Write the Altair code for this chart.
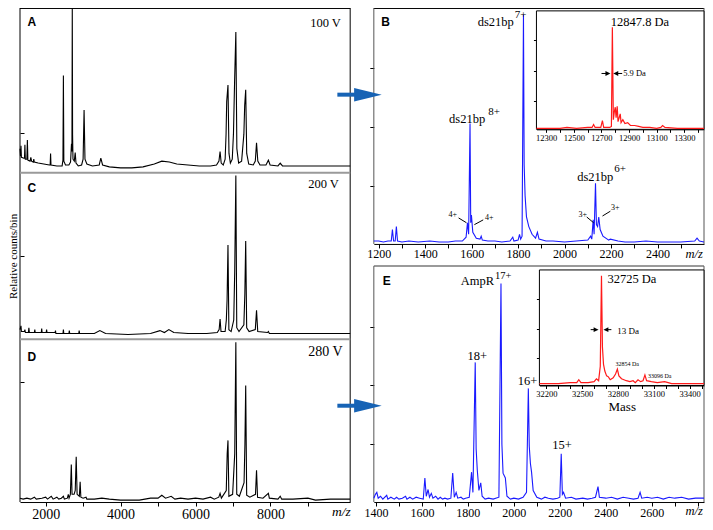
import altair as alt
import pandas as pd

# ---------------- data (m/z or mass, relative counts) ----------------
A_spec = [(1316,25),(1330,17),(1342,28),(1354,16),(1420,15),(1436,15),(1447,29),(1458,14),(1500,14),(1513,34),(1526,13),
          (1585,12),(1605,16),(1625,12),(1670,11),(1684,14),(1698,11),(1800,10),(1950,9),(2100,8),(2121,8),(2132,20),(2143,8),
          (2300,7),(2440,7),(2462,13),(2474,101),(2486,12),(2530,8),(2620,8),(2665,11),(2690,30),(2702,22),(2711,171),(2719,40),
          (2730,14),(2765,12),(2789,21),(2810,10),(2870,7),(2960,8),(3000,14),(3026,65),(3050,14),(3100,9),(3250,7),(3430,8),
          (3473,15),(3520,8),(3700,6),(4000,5),(4300,5),(4600,6),(4900,9),(5100,12),(5300,11),(5500,9),(5800,8),(6100,7),
          (6400,7),(6560,8),(6625,12),(6655,22),(6685,10),(6740,8),(6790,14),(6815,40),(6832,74),(6866,91),(6893,20),(6930,10),
          (6980,14),(7012,40),(7042,94),(7076,146),(7103,25),(7150,10),(7230,12),(7290,40),(7312,70),(7339,86),(7366,20),
          (7420,9),(7540,8),(7595,12),(7628,31),(7662,12),(7720,8),(7880,8),(7944,13),(7990,8),(8200,7),(8260,10),(8320,7),
          (8600,7),(9500,7),(10127,7)]
C_spec = [(1316,10),(1342,14),(1354,8),(1430,8),(1447,10),(1460,7),(1540,7),(1553,12),(1566,7),(1650,7),(1700,7),(1711,10),
          (1722,7),(1800,7),(1884,7),(1895,11),(1906,7),(2015,7),(2026,10),(2037,7),(2150,7),(2252,7),(2263,9),(2274,6),
          (2400,6),(2463,6),(2474,10),(2485,6),(2621,6),(2632,9),(2643,6),(2760,6),(2884,6),(2895,9),(2906,6),(3100,6),
          (3300,6),(3447,9),(3600,6),(4200,5),(4800,6),(5051,9),(5170,7),(5288,10),(5420,7),(5800,6),(6300,6),(6580,7),
          (6630,10),(6655,21),(6680,8),(6790,8),(6822,20),(6842,41),(6866,98),(6890,10),(6950,8),(7020,20),(7046,71),
          (7076,170),(7100,12),(7160,8),(7290,15),(7316,47),(7339,102),(7365,12),(7430,8),(7595,10),(7628,30),(7660,8),
          (7920,7),(7944,8),(7970,6),(8500,6),(10127,6)]
D_spec = [(1316,4),(1400,3),(1500,4),(1600,3),(1700,5),(1750,3),(1900,4),(2000,5),(2050,3),(2150,6),(2200,3),(2300,5),
          (2350,3),(2420,4),(2474,6),(2500,3),(2580,4),(2605,8),(2625,4),(2660,8),(2685,39),(2705,8),(2760,8),(2790,12),
          (2816,47),(2840,8),(2900,6),(2921,21),(2940,5),(3000,4),(3079,5),(3100,3),(3300,3),(3500,4),(3700,3),(4000,2),
          (4500,2),(4800,4),(5000,4),(5100,7),(5200,4),(5350,6),(5450,3),(5600,4),(5800,3),(6000,4),(6200,3),(6400,5),
          (6500,3),(6620,5),(6655,9),(6690,4),(6820,12),(6845,50),(6866,64),(6890,6),(6990,8),(7046,50),(7076,166),
          (7100,8),(7170,6),(7295,20),(7318,60),(7339,121),(7365,7),(7450,5),(7600,8),(7628,33),(7655,5),(7800,4),
          (7944,9),(7970,4),(8200,3),(8260,6),(8300,3),(8600,3),(9000,4),(9200,2),(9600,3),(10127,3)]
B_spec = [(1179,3),(1200,3),(1220,2),(1240,3),(1254,3),(1259,15),(1264,3),(1271,3),(1276,18),(1281,3),(1300,2),(1330,3),
          (1370,2),(1420,3),(1460,2),(1500,2),(1530,3),(1560,3),(1576,7),(1582,22),(1587,10),(1593,125),(1596,22),
          (1599,30),(1605,12),(1620,6),(1636,5),(1641,8),(1646,4),(1670,3),(1700,3),(1730,2),(1765,3),(1777,7),(1782,3),
          (1800,4),(1806,10),(1811,5),(1817,8),(1823,238),(1826,82),(1830,50),(1836,28),(1846,18),(1860,10),(1875,6),
          (1883,12),(1890,5),(1920,3),(1950,3),(2000,2),(2050,3),(2100,4),(2112,8),(2117,5),(2123,25),(2127,10),
          (2133,63),(2137,20),(2142,18),(2147,28),(2153,15),(2165,8),(2190,4),(2197,5),(2230,3),(2260,2),(2300,2),
          (2350,3),(2400,2),(2450,2),(2500,2),(2560,3),(2570,6),(2580,3),(2600,2)]
B_inset = [(12229,1),(12300,1),(12400,1),(12450,2),(12520,1),(12600,2),(12632,2),(12643,5),(12654,2),(12695,2),(12707,9),
           (12716,2),(12760,2),(12772,3),(12779,106),(12786,10),(12793,18),(12800,23),(12806,12),(12814,24),(12820,8),
           (12828,12),(12836,16),(12842,7),(12855,10),(12870,6),(12890,7),(12910,4),(12940,4),(12970,3),(13000,2),
           (13050,2),(13100,1),(13130,2),(13143,4),(13160,2),(13250,1),(13350,1),(13443,1)]
E_spec = [(1391,4),(1398,8),(1404,10),(1410,4),(1420,6),(1430,3),(1447,7),(1452,3),(1465,5),(1480,3),(1490,5),(1500,3),
          (1515,4),(1529,6),(1535,3),(1548,5),(1560,3),(1575,5),(1590,4),(1606,3),(1613,25),(1619,6),(1627,13),(1633,5),
          (1641,9),(1648,4),(1660,6),(1670,3),(1680,5),(1690,3),(1700,4),(1712,3),(1726,4),(1734,30),(1741,5),(1749,10),
          (1756,4),(1770,5),(1780,3),(1790,4),(1806,5),(1816,31),(1822,10),(1832,145),(1836,55),(1841,33),(1848,12),
          (1856,20),(1862,6),(1875,3),(1890,4),(1910,3),(1935,5),(1944,227),(1948,60),(1953,30),(1963,25),(1970,6),
          (1985,3),(2000,4),(2020,3),(2040,5),(2055,10),(2063,118),(2067,58),(2072,40),(2077,31),(2084,12),(2100,5),
          (2120,3),(2135,5),(2150,4),(2170,3),(2190,4),(2200,5),(2206,50),(2211,8),(2216,10),(2225,4),(2250,5),(2270,3),
          (2300,4),(2320,3),(2340,4),(2355,5),(2366,16),(2372,5),(2400,4),(2425,5),(2450,3),(2475,5),(2500,4),(2520,3),
          (2540,4),(2549,10),(2556,4),(2580,5),(2600,4),(2625,5),(2650,3),(2675,5),(2700,4),(2730,5),(2760,3),(2790,4),
          (2827,4)]
E_inset = [(32142,2),(32200,2),(32300,2),(32400,3),(32455,3),(32472,6),(32490,3),(32550,3),(32600,4),(32620,7),(32638,5),
           (32652,20),(32662,114),(32670,40),(32679,22),(32690,15),(32705,10),(32720,9),(32735,6),(32760,8),(32780,12),
           (32795,17),(32808,10),(32830,7),(32870,5),(32900,4),(32927,5),(32945,3),(32968,6),(32990,4),(33010,5),
           (33026,11),(33040,5),(33080,4),(33130,3),(33191,4),(33250,2),(33350,2),(33450,2),(33521,2)]

left_ticks = [2000, 3000, 4000, 5000, 6000, 7000, 8000, 9000]
B_ticks = list(range(1200, 2501, 100))
E_ticks = list(range(1400, 2801, 100))
Bi_ticks = list(range(12300, 13401, 100))
Ei_ticks = list(range(32200, 33501, 100))

# ---------------- layout helpers ----------------
SERIF = "Liberation Serif"
SANS = "Liberation Sans"
W, H = 697, 514
BLUE = "#1a1aff"
RED = "#ff1a1a"
ARROW = "#1763b5"
GRAY = "#9a9a9a"


def cx(x):
    return round(12 + 0.9856 * (x - 16), 2)


def cy(y):
    return round(0.963 * y, 2)


ONE = pd.DataFrame({"k": [0]})


def xaxis(values, expr, ypix, size, tick=4, pad=1, title=None):
    kw = dict(orient="bottom", offset=round(cy(ypix) - H, 2), values=values, labelExpr=expr, format="d",
              grid=False, labelFont=SERIF, labelFontSize=size, labelColor="black", tickColor="black",
              domainColor="black", tickSize=tick, labelPadding=pad, labelOverlap=False, labelFlush=False)
    if title:
        kw.update(title=title, titleFont=SERIF, titleFontSize=13, titleFontWeight="normal", titlePadding=2,
                  titleColor="black")
    else:
        kw["title"] = None
    return alt.Axis(**kw)


def yaxis(values, orient, xpix, tick=4):
    off = round(cx(xpix) - W, 2) if orient == "right" else round(-cx(xpix), 2)
    return alt.Axis(orient=orient, offset=off, values=values, labels=False, domain=False, ticks=True,
                    tickSize=tick, tickColor="black", grid=False, title=None)


def spectrum(data, xdom, xpx, ytop, ybot, color, width=1.1, xax=None, yax=None):
    df = pd.DataFrame(data, columns=["mz", "v"])
    return alt.Chart(df).mark_line(color=color, strokeWidth=width).encode(
        x=alt.X("mz:Q", scale=alt.Scale(domain=xdom, range=[cx(xpx[0]), cx(xpx[1])], nice=False, zero=False),
                axis=xax),
        y=alt.Y("v:Q", scale=alt.Scale(domain=[0, ybot - ytop], range=[cy(ybot), cy(ytop)], nice=False,
                                       zero=False), axis=yax),
    )


def seg(x1, y1, x2, y2, color="black", w=1.0):
    return alt.Chart(ONE).mark_rule(color=color, strokeWidth=w).encode(
        x=alt.value(cx(x1)), x2=alt.value(cx(x2)), y=alt.value(cy(y1)), y2=alt.value(cy(y2)))


def txt(s, x, y, size=12.5, font=SERIF, align="center", weight="normal", style="normal", color="black"):
    return alt.Chart(ONE).mark_text(text=s, font=font, fontSize=size, align=align, baseline="middle",
                                    fontWeight=weight, fontStyle=style, color=color).encode(
        x=alt.value(cx(x)), y=alt.value(cy(y)))


def arrow(x_tail, x_tip, y, color, head_len, half, shaft_w):
    d = 1 if x_tip > x_tail else -1
    base = x_tip - d * head_len
    shaft = seg(x_tail, y, base + d * 1, y, color, shaft_w)
    L = head_len * 0.9856
    s = L / 2
    h = round(half * 0.963 / s, 3)
    path = f"M -1 {-h} L 1 0 L -1 {h} Z" if d == 1 else f"M 1 {-h} L -1 0 L 1 {h} Z"
    head = alt.Chart(ONE).mark_point(shape=path, filled=True, size=round(L * L, 1), color=color, opacity=1,
                                     strokeWidth=0).encode(
        x=alt.value(cx((base + x_tip) / 2)), y=alt.value(cy(y)))
    return [shaft, head]


def rect(x1, y1, x2, y2):
    return alt.Chart(ONE).mark_rect(fill="white", stroke="black", strokeWidth=1).encode(
        x=alt.value(cx(x1)), x2=alt.value(cx(x2)), y=alt.value(cy(y1)), y2=alt.value(cy(y2)))


layers = []

# frames
layers += [seg(16, 0.5, 351, 0.5), seg(16, 0, 16, 513), seg(351, 0, 351, 513),
           seg(16, 171, 351, 171, GRAY, 2), seg(16, 344, 351, 344, GRAY, 2),
           seg(375, 0.5, 710, 0.5), seg(375, 0, 375, 245, "#555555"), seg(710, 0, 710, 245, "#555555"),
           seg(375, 268, 710, 268, GRAY, 2), seg(375, 268, 375, 513, "#555555"), seg(710, 268, 710, 513, "#555555")]

# left column spectra
LDOM = [1316, 10127]
layers.append(spectrum(A_spec, LDOM, (16, 351), 0, 171, "black", yax=yaxis([41], "right", 16)))
layers.append(spectrum(C_spec, LDOM, (16, 351), 171, 344, "black", yax=yaxis([86], "right", 16)))
layers.append(spectrum(D_spec, LDOM, (16, 351), 344, 513, "black",
                       xax=xaxis(left_ticks, "datum.value % 2000 == 0 ? datum.label : ''", 513, 14),
                       yax=yaxis([125], "right", 16)))

# right column spectra
layers.append(spectrum(B_spec, [1179, 2600], (375, 710), 0, 245, BLUE,
                       xax=xaxis(B_ticks, "datum.value % 200 == 0 && datum.value <= 2400 ? datum.label : ''", 245,
                                 12),
                       yax=yaxis([60, 121, 183], "left", 375)))
layers.append(spectrum(E_spec, [1391, 2827], (375, 710), 268, 513, BLUE,
                       xax=xaxis(E_ticks, "datum.value % 200 == 0 && datum.value <= 2600 ? datum.label : ''", 513,
                                 12),
                       yax=yaxis([60, 121, 182], "left", 375)))

# insets
layers.append(rect(540, 3, 710, 126))
layers.append(spectrum(B_inset, [12229, 13443], (540, 710), 3, 126, RED, width=1.2,
                       xax=xaxis(Bi_ticks, "(datum.value - 12300) % 200 == 0 ? datum.label : ''", 126, 8.5,
                                 tick=3, pad=1),
                       yax=yaxis([29, 61, 93], "left", 540, tick=3)))
layers.append(rect(543, 272, 710, 392))
layers.append(spectrum(E_inset, [32142, 33521], (543, 710), 272, 392, RED, width=1.2,
                       xax=xaxis(Ei_ticks, "(datum.value - 32200) % 300 == 0 ? datum.label : ''", 392, 8.5,
                                 tick=3, pad=1, title="Mass"),
                       yax=yaxis([29, 59, 90], "left", 543, tick=3)))

# texts
layers += [
    txt("A", 28, 15, 12, SANS, weight="bold"), txt("100 V", 326, 16, 12.5),
    txt("C", 28, 187, 12, SANS, weight="bold"), txt("200 V", 324, 183, 12.5),
    txt("D", 28, 362, 12, SANS, weight="bold"), txt("280 V", 326, 357, 14),
    txt("m/z", 342, 523, 13.5, style="italic"),
    txt("B", 387, 15, 12, SANS, weight="bold"), txt("E", 388, 284, 12, SANS, weight="bold"),
    txt("ds21bp", 517, 15, 12.5, align="right"), txt("7+", 518, 7, 11, align="left"),
    txt("ds21bp", 488, 115, 12.5, align="right"), txt("8+", 491, 108, 11, align="left"),
    txt("ds21bp", 618, 175, 12.5, align="right"), txt("6+", 619, 167, 11, align="left"),
    txt("4+", 455, 215, 8), txt("4+", 492, 218, 8), txt("3+", 587, 215, 8), txt("3+", 620, 208, 8),
    txt("12847.8 Da", 645, 15, 12.5), txt("5.9 Da", 628, 68, 8.5, align="left"),
    txt("m/z", 700, 255, 12.5, style="italic"),
    txt("AmpR", 497, 284, 12.5, align="right"), txt("17+", 498, 278, 10.5, align="left"),
    txt("18+", 480, 361, 12.5), txt("16+", 531, 387, 12.5), txt("15+", 566, 454, 12.5),
    txt("32725 Da", 612, 281, 12.5, align="left"), txt("13 Da", 622, 335, 9, align="left"),
    txt("32854 Da", 632, 370, 6), txt("33096 Da", 665, 382, 6),
    txt("m/z", 700, 522, 12.5, style="italic"),
]
layers.append(alt.Chart(ONE).mark_text(text="Relative counts/bin", font=SERIF, fontSize=11, angle=270,
                                       align="center", baseline="middle", color="black").encode(
    x=alt.value(5.5), y=alt.value(cy(258))))

# leader lines
layers += [seg(461, 218, 469, 223), seg(486, 220, 477, 225), seg(591, 217, 598, 223), seg(615, 211, 607, 216)]

# arrows
layers += arrow(338, 383, 90, ARROW, 28, 7, 4)
layers += arrow(338, 383, 413, ARROW, 28, 7, 4)
layers += arrow(606, 615, 68, "black", 5, 2.5, 1)
layers += arrow(627, 618, 68, "black", 5, 2.5, 1)
layers += arrow(595, 603, 334, "black", 5, 2.5, 1)
layers += arrow(616, 608, 334, "black", 5, 2.5, 1)

chart = alt.layer(*layers).resolve_scale(x="independent", y="independent").properties(
    width=W, height=H, padding=0, autosize=alt.AutoSizeParams(type="none")
).configure_view(stroke=None)

chart.save("out.html", embed_options={"renderer": "svg", "actions": False})
